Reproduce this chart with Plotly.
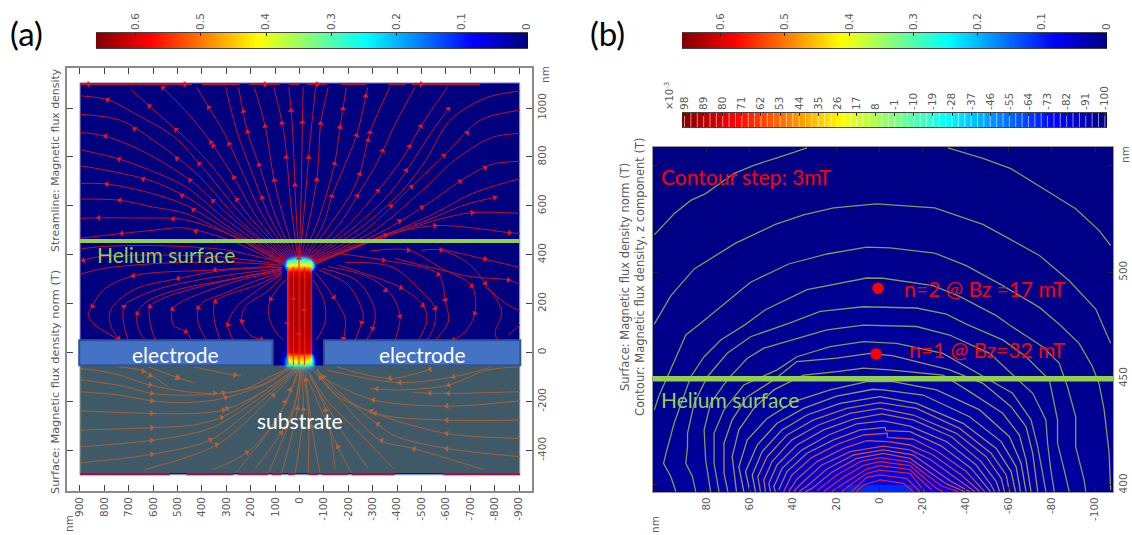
import math
import plotly.graph_objects as go

W, H = 1132, 535
JET = [[0, '#00007f'], [.125, '#0000ff'], [.375, '#00ffff'], [.625, '#ffff00'], [.875, '#ff0000'], [1, '#7f0000']]

# ---------- panel (a): magnet pillar field (nm, tesla) ----------
pillar_x_half = [0, 10, 22, 36, 50, 52, 58, 70, 90]
pillar_y = [-95, -80, -70, -60, -52, -45, -35, -15, 5, 100, 200, 300, 325, 335, 345, 355, 365, 375, 385, 395, 405, 418]
pillar_z_half = [
    [.01, .01, .01, .005, 0, 0, 0, 0, 0],
    [.06, .06, .05, .04, .03, .02, .01, 0, 0],
    [.13, .13, .12, .10, .08, .06, .03, .005, 0],
    [.20, .20, .20, .18, .15, .14, .08, .02, 0],
    [.27, .27, .27, .25, .22, .20, .13, .04, 0],
    [.33, .33, .33, .32, .28, .24, .15, .04, 0],
    [.42, .42, .42, .42, .36, .26, .14, .03, 0],
    [.50, .50, .50, .50, .46, .20, .08, .02, 0],
    [.58, .62, .60, .62, .55, .05, .02, 0, 0],
    [.60, .645, .62, .645, .56, .02, .01, 0, 0],
    [.60, .645, .62, .645, .56, .02, .01, 0, 0],
    [.60, .645, .62, .645, .56, .02, .01, 0, 0],
    [.58, .62, .60, .62, .55, .03, .01, 0, 0],
    [.55, .58, .57, .58, .52, .10, .03, 0, 0],
    [.50, .50, .50, .50, .46, .28, .12, .02, 0],
    [.44, .44, .44, .44, .41, .30, .18, .05, 0],
    [.38, .38, .38, .38, .35, .28, .18, .05, 0],
    [.32, .32, .32, .31, .27, .22, .14, .04, 0],
    [.25, .25, .24, .21, .16, .13, .08, .02, 0],
    [.15, .15, .14, .12, .08, .07, .04, .01, 0],
    [.06, .06, .05, .04, .03, .02, .01, 0, 0],
    [.005, .005, .005, .005, 0, 0, 0, 0, 0],
]

fan_left = [
    [(3,392),(15,600),(30,940),(44,1085)],
    [(0,392),(-8,700),(-12,941),(-15,1085)],
    [(8,392),(35,600),(64,900),(105,1085)],
    [(14,392),(65,550),(104,705),(141,926),(185,1085)],
    [(20,391),(95,550),(160,750),(213,903),(250,1085)],
    [(26,390),(120,550),(200,750),(255,900),(303,1085)],
    [(32,388),(145,550),(240,750),(310,900),(370,1000),(422,1085)],
    [(37,386),(170,545),(280,735),(363,860),(450,970),(562,1085)],
    [(42,384),(200,550),(340,740),(450,860),(550,950),(691,1076)],
    [(47,381),(225,550),(400,760),(511,880),(670,975),(787,1034),(900,1050)],
    [(51,378),(250,545),(420,730),(580,855),(734,950),(900,974)],
    [(54,375),(270,545),(448,705),(636,820),(795,885),(900,900)],
    [(57,372),(290,535),(470,680),(636,755),(734,790),(900,830)],
    [(60,369),(300,520),(435,620),(600,700),(790,745),(900,764)],
    [(62,366),(300,505),(470,605),(640,660),(790,689),(900,692)],
    [(64,363),(300,490),(470,570),(600,595),(737,623),(900,628)],
    [(66,360),(280,480),(480,545),(650,550),(823,551),(900,549)],
    [(68,357),(300,465),(480,510),(600,500),(728,487),(900,467)],
]
fan_right = [
    [(-3,392),(-25,650),(-37,798),(-66,1085)],
    [(-8,392),(-71,708),(-87,937),(-118,1085)],
    [(-14,392),(-80,550),(-144,773),(-166,921),(-192,1085)],
    [(-20,391),(-100,530),(-133,640),(-200,800),(-234,888),(-280,1085)],
    [(-26,390),(-130,530),(-205,640),(-247,730),(-289,900),(-370,1085)],
    [(-32,388),(-160,520),(-237,641),(-320,780),(-390,930),(-473,1085)],
    [(-37,386),(-190,510),(-320,660),(-426,800),(-500,930),(-607,1085)],
    [(-42,384),(-220,510),(-370,650),(-469,790),(-540,900),(-617,1005)],
    [(-47,381),(-250,510),(-420,660),(-520,790),(-617,950),(-760,1040),(-904,1070)],
    [(-51,378),(-270,500),(-459,678),(-607,820),(-740,950),(-904,991)],
    [(-54,375),(-300,495),(-500,660),(-640,790),(-790,880),(-904,896)],
    [(-57,372),(-330,490),(-520,605),(-680,715),(-790,770),(-904,782)],
    [(-60,369),(-352,480),(-555,570),(-707,650),(-904,712)],
    [(-62,366),(-370,490),(-496,530),(-680,605),(-814,637)],
    [(-64,363),(-300,455),(-555,540),(-707,572),(-904,569)],
    [(-66,360),(-352,480),(-555,519),(-750,505),(-861,490),(-904,487)],
]
lobe_left = [
    [(93,372),(298,419),(572,437),(818,433),(900,423)],
    [(107,365),(339,392),(627,399),(818,392),(886,377),(900,372)],
    [(78,358),(298,369),(572,365),(804,344),(900,320)],
    [(72,355),(353,338),(681,314),(804,256),(849,190),(866,153),(845,119),(750,58)],
    [(72,348),(298,338),(497,303),(668,262),(756,201),(780,153),(770,99),(736,51)],
    [(72,344),(339,310),(572,262),(688,215),(720,190),(722,126),(702,51)],
    [(72,342),(298,297),(504,256),(627,208),(665,160),(661,99),(633,51)],
    [(72,338),(257,303),(435,262),(558,222),(613,188),(613,126),(592,51)],
    [(72,333),(217,303),(367,256),(483,208),(521,178),(517,113),(465,85),(442,51)],
    [(72,328),(189,290),(326,235),(394,208),(415,183),(415,119),(381,51)],
    [(72,324),(175,276),(298,235),(346,208),(350,140),(326,51)],
    [(72,320),(162,262),(257,188),(294,115),(271,51)],
    [(72,310),(134,249),(223,188),(237,129),(203,72),(148,51)],
    [(60,297),(118,219),(128,167),(107,99),(66,51)],
]
lobe_right = [
    [(-57,297),(-102,208),(-105,126),(-70,51)],
    [(-64,331),(-141,226),(-187,140),(-180,51)],
    [(-77,338),(-200,276),(-262,153),(-255,123),(-228,51)],
    [(-91,344),(-241,290),(-310,167),(-300,99),(-275,51)],
    [(-118,351),(-282,310),(-378,235),(-412,147),(-392,51)],
    [(-159,358),(-416,265),(-508,192),(-521,126),(-487,51)],
    [(-187,369),(-378,351),(-501,249),(-556,181),(-549,99),(-521,51)],
    [(-146,406),(-344,378),(-569,320),(-597,215),(-610,126),(-556,51)],
    [(-289,415),(-446,419),(-583,344),(-706,273),(-720,164),(-679,85),(-631,51)],
    [(-501,419),(-580,419),(-692,365),(-761,283),(-829,167),(-802,85),(-809,51)],
    [(-583,423),(-761,382),(-904,348)],
    [(-392,385),(-556,344),(-706,310),(-856,297),(-904,279)],
    [(-761,269),(-856,194),(-904,170)],
    [(-856,72),(-904,113)],
]
pillar_lines = [
    [(48,-50),(48,350)], [(25,-50),(25,350)], [(2,-50),(2,392)], [(-20,-50),(-20,350)],
]
substrate_lines = [
    [(900,-65),(763,-85),(613,-133),(463,-160),(326,-167),(217,-147),(107,-92),(25,-58)],
    [(900,-110),(709,-140),(606,-167),(435,-174),(298,-164),(148,-129),(52,-65)],
    [(900,-160),(736,-174),(606,-197),(463,-205),(312,-187),(134,-126),(39,-65)],
    [(900,-238),(606,-249),(435,-249),(312,-235),(162,-167),(25,-72)],
    [(900,-317),(606,-307),(435,-296),(319,-265),(189,-187),(25,-72)],
    [(900,-385),(599,-358),(367,-310),(175,-194),(18,-72)],
    [(900,-451),(599,-415),(367,-358),(217,-249),(11,-72)],
    [(633,-478),(333,-374),(107,-174),(9,-72)],
    [(353,-478),(210,-405),(80,-249),(5,-72)],
    [(264,-494),(110,-300),(40,-170),(2,-72)],
    [(182,-474),(73,-324),(18,-208),(-2,-72)],
    [(128,-494),(25,-235),(-5,-72)],
    [(73,-494),(9,-235),(-5,-72)],
    [(18,-494),(-16,-235),(-7,-72)],
    [(-36,-494),(-36,-228),(-13,-72)],
    [(-84,-494),(-50,-303),(-23,-72)],
    [(-146,-474),(-107,-235),(-30,-72)],
    [(-214,-494),(-157,-385),(-36,-112)],
    [(-282,-474),(-180,-330),(-43,-99)],
    [(-385,-474),(-248,-331),(-112,-194),(-43,-85)],
    [(-754,-478),(-467,-392),(-330,-358),(-180,-208),(-57,-72)],
    [(-904,-426),(-604,-392),(-399,-344),(-317,-290),(-207,-201),(-71,-72)],
    [(-904,-351),(-604,-331),(-330,-256),(-139,-167),(-71,-72)],
    [(-904,-276),(-604,-276),(-310,-249),(-139,-153),(-71,-65)],
    [(-904,-197),(-604,-219),(-303,-194),(-112,-112)],
    [(-904,-160),(-604,-167),(-467,-164)],
    [(-904,-58),(-768,-72),(-611,-133),(-412,-153),(-289,-147)],
    [(-781,-61),(-631,-99),(-412,-123),(-112,-72)],
    [(-535,-68),(-371,-106),(-153,-58)],
    [(743,-58),(640,-76),(545,-136)],
    [(620,-58),(490,-106),(435,-123)],
    [(435,-58),(264,-92),(237,-92)],
]
top_edge_x = [900,441,None,400,244,None,207,81,None,44,0,None,-30,-111,None,-170,-274,None,-363,-437,None,-459,-740]
top_edge_y = [1097,1097,None,1097,1097,None,1097,1097,None,1097,1097,None,1097,1097,None,1097,1097,None,1097,1097,None,1097,1097]
bottom_edge_x = [900,531,None,463,271,None,251,128,None,114,73,None,46,18,None,-36,-77,None,-91,-200,None,-214,-392,None,-590,-904]
bottom_edge_y = [-497,-497,None,-497,-497,None,-497,-497,None,-497,-497,None,-497,-497,None,-497,-497,None,-497,-497,None,-497,-497,None,-497,-497]

arrows_top = [(863,1097),(469,1097),(141,1097),(-74,1097),(-500,1097),
    (562,1080),(336,1024),(207,991),(30,991),(787,1034),(596,1030),(64,940),(-12,941),(-87,937),(141,926),(-166,921),
    (670,925),(511,906),(795,891),(213,903),(343,873),(363,839),(278,858),(734,812),(508,787),(407,776),(180,763),
    (636,727),(448,705),(281,709),(104,705),(790,689),(737,623),(485,634),(355,620),(260,623),(158,632),(435,583),
    (823,551),(518,553),(422,508),(728,487),
    (-271,1050),(-148,1002),(-617,992),(-456,949),(-289,900),(-234,888),(-699,887),(-309,862),(-469,833),(-370,812),
    (-607,790),(-755,767),(-144,773),(-37,798),(74,797),(-426,753),(-247,730),(-71,708),(15,685),(-666,689),(-459,678),
    (-237,641),(-133,640),(-336,652),(-370,604),(-496,604),(-799,637),(-707,572),(-405,546),(-555,519),(-352,480),(-861,490)]
arrows_lobe = [(849,190),(720,188),(665,160),(613,188),(521,178),(415,183),(346,211),(294,115),(237,129),(118,219),
    (681,314),(497,303),(346,338),(465,88),(155,58),(743,58),(886,377),
    (-141,226),(-255,123),(-300,99),(-334,231),(-416,265),(-408,147),(-504,192),(-556,181),(-597,215),(-569,320),
    (-706,273),(-713,164),(-761,283),(-856,297),(-761,382),(-580,419),(-446,419),(-344,378),(-180,58),(-631,55),
    (25,221),(-20,176),(48,122),(2,78),(2,386)]
arrows_substrate = [(640,-76),(620,-106),(490,-68),(497,-106),(264,-92),(613,-137),(606,-167),(346,-147),(312,-163),
    (606,-197),(303,-185),(305,-208),(606,-249),(312,-235),(606,-307),(319,-265),(606,-358),(367,-355),(606,-412),
    (340,-374),(214,-410),(80,-324),(59,-201),(107,-174),(52,-147),(7,-228),(-13,-232),(-107,-235),(-50,-303),
    (-157,-385),(-30,-112),(-77,-112),(-98,-99),(-542,-68),(-631,-99),(-412,-123),(-371,-106),(-611,-133),(-535,-167),
    (-317,-151),(-611,-167),(-303,-194),(-604,-219),(-303,-222),(-310,-252),(-604,-276),(-323,-290),(-604,-333),
    (-337,-358),(-604,-392),(-470,-395)]

# ---------- panel (b): contours of Bz near the helium surface (nm) ----------
contours_outer = [
    [(104.3,517.6),(95.1,527.5),(87.4,533.8),(80.5,537),(67.4,546.4),(58.2,550.3),(47.4,553.8),(33.5,558.5)],
    [(-31.8,558.5),(-48,553.5),(-61,548.7),(-75.7,539.6),(-91,529.9),(-101.8,519.7),(-107.2,512.6)],
    [(104.3,475.6),(96.6,489),(85.8,501.6),(66.6,513.7),(48.2,522.5),(35.1,527),(21.2,530.3),(1.2,532.2),(-25.7,530.3),(-48,522.5),(-60.3,515.7),(-74.2,507.9),(-88,496),(-100.3,482.7),(-107.2,466.6)],
    [(104.3,435.3),(102,442.3),(98.2,450.9),(94.3,460.3),(89.7,470.5),(82.8,476),(59.7,495.3),(42,503.9),(24.3,508.6),(5.8,511.8),(-4.9,511.5),(-25.7,509),(-40.3,503.1),(-57.2,493.7),(-74.2,483.5),(-83.4,475.6),(-92.6,466.6),(-98.8,455.6),(-101.8,447.8),(-104.2,435.3),(-106.5,414.9),(-107.2,397.6)],
    [(94.3,396.9),(96.6,403.9),(100,410.2),(98.9,414.9),(95.1,429),(90.5,441.5),(87.4,450.9),(81.2,460.3),(73.5,468.2),(62,475.5),(52.8,482.4),(33.5,491.8),(19.7,494.5),(5.8,497.3),(-1.8,497.2),(-24.9,493.7),(-37.2,488.7),(-54.2,479.6),(-60.3,475.2),(-75.7,465),(-83.4,457.2),(-87.2,446.2),(-91,432.1),(-91,418),(-94.9,402.4),(-95.7,396.9)],
    [(85.1,396.9),(86.6,403.9),(89.7,410.2),(88.9,418),(88.9,424.3),(85.8,438.4),(79.7,450.9),(70.5,461.9),(59.7,469.7),(42,476),(27.4,481.6),(7.4,483.8),(-17.2,483.2),(-31.1,480.3),(-40.3,475.6),(-57.2,468.2),(-68,460.3),(-78.8,449.4),(-82.6,430.6),(-82.6,419.6),(-85.7,407),(-88,396.9)],
    [(78.2,396.9),(80.5,411.8),(81.2,425.9),(78.2,438.4),(70.5,449.4),(61.2,459.6),(53.5,464.3),(39.7,468.2),(24.3,472.9),(7.4,475.2),(-17.2,474.5),(-32.6,470.5),(-51.1,461.9),(-61.1,452.5),(-71.1,443.1),(-77.2,430.6),(-78,419.6),(-79.5,407),(-81.1,396.9)],
    [(74.3,396.9),(76.6,410.2),(76.6,424.3),(72,435.3),(62.8,447),(47.4,454.1),(38.2,460.3),(22.8,465),(7.4,467.4),(-8,466.6),(-29.5,461.9),(-45.7,452.5),(-61.8,443.1),(-70.3,430.6),(-73.4,418),(-75.7,405.5),(-77.2,396.9)],
]
contours_middle = [
    [(70.2,396.9),(72,405.5),(72,419.6),(68.2,430.6),(61.2,441.5),(48.9,449.4),(38.2,458),(19.7,459.6),(4.3,461.9),(-6.5,460.7),(-32.6,454.1),(-48,447.8),(-61.1,436.8),(-68,427.4),(-71.1,414.9),(-73.4,396.9)],
    [(66.2,396.9),(68.2,413.3),(65.1,425.9),(58.2,436),(48.9,444.7),(35.1,451.7),(19.7,453.3),(7.4,454.9),(-4.9,454.1),(-29.5,451.7),(-41.8,443.9),(-57.2,433.7),(-64.9,423.5),(-68,411.8),(-70.3,396.9)],
    [(62.8,396.9),(65.1,408.6),(61.2,421.2),(52,431.3),(39.7,439.2),(22.8,444.7),(5.8,448.6),(-6.5,448.6),(-26.5,444.7),(-46.5,435.3),(-60.3,422.7),(-65.7,410.2),(-68,396.9)],
    [(60,396.9),(62,406.3),(56.6,418.8),(47.4,429),(35.1,436),(19.7,441.8),(2.8,445),(-1.8,444.7),(-20.3,442.3),(-41.8,432.1),(-56.5,420.4),(-63.4,408.6),(-65.4,396.9)],
    [(57.4,396.9),(58.9,404.7),(54.3,415.7),(45.1,425.9),(33.5,432.9),(18.2,438.4),(-0.3,441.5),(-17.2,438.4),(-38.8,429),(-54.2,417.2),(-61.1,406.3),(-63.1,396.9)],
]
contours_warm = [
    [(55.1,396.9),(56.3,403.9),(52,413.3),(42.8,423.5),(30.5,430.6),(15.1,436),(-0.3,438.7),(-17.2,436),(-37.2,426.6),(-51.8,414.9),(-58.8,404.7),(-60.3,396.9)],
    [(52.8,396.9),(53.5,402.4),(49.7,411),(40.5,421.2),(28.2,428.2),(13.5,433.7),(-0.3,436),(-15.7,432.9),(-35.7,424.3),(-49.5,413.3),(-56.5,403.1),(-58,396.9)],
    [(50.5,396.9),(51.2,400.8),(47.4,409.4),(38.2,418.8),(25.8,425.9),(12,431),(-1.1,433.4),(-15.7,430.6),(-33.4,422.7),(-47.2,411),(-54.2,401.6),(-55.7,396.9)],
    [(48.2,396.9),(48.9,399.2),(45.1,407.8),(35.8,416.5),(23.5,423.5),(10.5,428.7),(-1.8,430.1),(-14.2,427.7),(-31.1,420.4),(-44.9,409.4),(-51.8,400),(-53.4,396.9)],
    [(46.6,397.6),(42.8,406.3),(33.5,414.9),(21.2,421.2),(8.9,425.9),(-2.6,427.1),(-3.1,425.5),(-14.2,425.1),(-28.8,418.3),(-42.6,407.8),(-50.3,398.4),(-51.4,396.9)],
]
contours_hot = [
    [(44.3,396.9),(40.5,404.7),(31.2,413),(18.9,419.3),(7.4,423.5),(-3.7,424.3),(-3.8,422.4),(-15.7,421.5),(-26.5,416.1),(-40.3,406.3),(-48.8,396.9)],
    [(42,396.9),(38.2,402.7),(28.9,411),(16.6,417.2),(5.8,420.8),(-4.2,420.4),(-14.2,418.8),(-24.9,414.1),(-38,404.7),(-46.5,396.9)],
    [(39.7,396.9),(35.8,401.1),(26.6,409.4),(13.5,415.7),(-1.8,418.3),(-14.2,416.5),(-23.4,412.1),(-35.7,403.1),(-44.2,396.9)],
    [(37.1,396.9),(33.5,399.5),(24.3,407.5),(12,414.1),(-1.8,416.5),(-15.7,414.1),(-33.4,401.6),(-41.8,396.9)],
    [(34.3,396.9),(31.2,398.4),(22,406),(10.5,412.5),(-1.8,414.9),(-14.2,412.5),(-31.1,400.5),(-39.5,396.9)],
]
contours_red = [
    [(28.9,397.3),(19.7,404.7),(8.9,411),(-0.3,412.9),(-14.2,410.7),(-28.8,399.5),(-36.5,396.9)],
    [(25.8,396.9),(17.4,403.1),(7.4,409.2),(-0.3,411),(-14.2,409.1),(-26.5,398.4),(-29.5,396.9)],
    [(22,396.9),(15.1,401.6),(5.8,407.5),(-0.3,409.1),(-14.2,407.2),(-24.2,397.6)],
    [(17.4,396.9),(13.5,400),(5.8,405.5),(-0.3,407),(-14.2,405.5),(-21.1,396.9)],
    [(12.8,396.9),(10.5,399.2),(5.8,403.6),(-0.3,404.7),(-12.6,403.1),(-18.8,396.9)],
    [(10.5,396.9),(7.4,400),(-0.3,402.4),(-11.1,400.8),(-15.7,396.9)],
]
field_x = [-110, -60, -30, -16, -14, 0, 14, 16, 30, 60, 108]
field_y = [396, 399.8, 400.2, 403, 420, 450, 500, 560]
field_z = [
    [.015, .03, .08, .09, .105, .11, .105, .09, .08, .03, .015],
    [.015, .03, .08, .09, .105, .11, .105, .09, .08, .03, .015],
    [.015, .03, .06, .072, .072, .075, .072, .072, .06, .03, .015],
    [.015, .03, .06, .07, .07, .075, .07, .07, .06, .03, .015],
    [.012, .02, .04, .045, .048, .05, .048, .045, .04, .02, .012],
    [.008, .012, .02, .022, .023, .024, .023, .022, .02, .012, .008],
    [.005, .006, .008, .009, .01, .01, .01, .009, .008, .006, .005],
    [.002, .003, .003, .003, .003, .003, .003, .003, .003, .003, .002],
]
state_x = [0.6, 1.5]
state_y = [492.5, 461.6]

# ---------- ticks ----------
a_xticks = [900, 800, 700, 600, 500, 400, 300, 200, 100, 0, -100, -200, -300, -400, -500, -600, -700, -800, -900]
a_yticks = [-400, -200, 0, 200, 400, 600, 800, 1000]
b_xticks = [80, 60, 40, 20, 0, -20, -40, -60, -80, -100]
b_yticks = [400, 450, 500]
b_unlabelled_ticks = [550]
norm_ticks = [0.6, 0.5, 0.4, 0.3, 0.2, 0.1, 0]
norm_limits = [-0.002, 0.661]
norm_limits_b = [-0.001, 0.66]
bz_ticks = [98, 89, 80, 71, 62, 53, 44, 35, 26, 17, 8, -1, -10, -19, -28, -37, -46, -55, -64, -73, -82, -91, -100]
bz_limits = [-101, 99.2]
bz_levels = [98,95,92,89,86,83,80,77,74,71,68,65,62,59,56,53,50,47,44,41,38,35,32,29,26,23,20,17,14,11,8,5,2,-1,-4,-7,-10,
             -13,-16,-19,-22,-25,-28,-31,-34,-37,-40,-43,-46,-49,-52,-55,-58,-61,-64,-67,-70,-73,-76,-79,-82,-85,-88,-91,-94,-97,-100]


def flat(lines):
    xs, ys = [], []
    for ln in lines:
        xs += [p[0] for p in ln] + [None]
        ys += [p[1] for p in ln] + [None]
    return xs, ys


def snap(arrows, lines):
    """Put each read arrow on its nearest streamline and point it along that line."""
    out_x, out_y, out_a = [], [], []
    for ax_, ay_ in arrows:
        best = None
        for ln in lines:
            for (x0, y0), (x1, y1) in zip(ln[:-1], ln[1:]):
                dx_, dy_ = x1 - x0, y1 - y0
                t = max(0, min(1, ((ax_ - x0) * dx_ + (ay_ - y0) * dy_) / (dx_ * dx_ + dy_ * dy_ or 1)))
                px, py = x0 + t * dx_, y0 + t * dy_
                d = (px - ax_) ** 2 + (py - ay_) ** 2
                if best is None or d < best[0]:
                    best = (d, px, py, dx_, dy_)
        out_x.append(best[1]); out_y.append(best[2])
        out_a.append(math.degrees(math.atan2(-best[3], best[4])))
    return out_x, out_y, out_a


def dx(l, r):
    return [l / W, r / W]


def dy(t, b):
    return [1 - b / H, 1 - t / H]


fig = go.Figure()
TICK = dict(family='DejaVu Sans', size=10.5, color='#5a5a5a')
STREAM = 'rgb(195,15,40)'

# panel (a)
pillar_x = [-v for v in pillar_x_half[:0:-1]] + pillar_x_half
pillar_z = [row[:0:-1] + row for row in pillar_z_half]
fig.add_trace(go.Heatmap(x=pillar_x, y=pillar_y, z=pillar_z, colorscale=JET, zmin=0, zmax=0.661, zsmooth='best',
                         showscale=False, hoverinfo='skip', xaxis='x', yaxis='y'))
all_lines = fan_left + fan_right + lobe_left + lobe_right + substrate_lines
sx, sy = flat(all_lines)
fig.add_trace(go.Scatter(x=sx, y=sy, mode='lines', line=dict(color=STREAM, width=1, shape='spline', smoothing=0.9),
                         connectgaps=False, hoverinfo='skip', xaxis='x', yaxis='y'))
px_, py_ = flat(pillar_lines)
fig.add_trace(go.Scatter(x=px_, y=py_, mode='lines', line=dict(color='#f02010', width=1), hoverinfo='skip', xaxis='x', yaxis='y'))
fig.add_trace(go.Scatter(x=top_edge_x, y=top_edge_y, mode='lines', line=dict(color=STREAM, width=1.2),
                         hoverinfo='skip', xaxis='x', yaxis='y'))
fig.add_trace(go.Scatter(x=bottom_edge_x, y=bottom_edge_y, mode='lines', line=dict(color='#a8104c', width=2),
                         hoverinfo='skip', xaxis='x', yaxis='y'))
edge_lines = [[(top_edge_x[i], 1097), (top_edge_x[i + 1], 1097)] for i in range(0, len(top_edge_x) - 1, 3)]
ax1, ay1, aa1 = snap(arrows_top, fan_left + fan_right + edge_lines)
ax2, ay2, aa2 = snap(arrows_lobe, lobe_left + lobe_right + pillar_lines)
ax3, ay3, aa3 = snap(arrows_substrate, substrate_lines)
fig.add_trace(go.Scatter(x=ax1 + ax2 + ax3, y=ay1 + ay2 + ay3, mode='markers',
                         marker=dict(symbol='triangle-up', size=5.5, color='#ee1020', angle=aa1 + aa2 + aa3, line=dict(width=0)),
                         hoverinfo='skip', xaxis='x', yaxis='y'))

# panel (b)
fig.add_trace(go.Heatmap(x=field_x, y=field_y, z=field_z, colorscale=JET, zmin=0, zmax=0.661, zsmooth='best',
                         showscale=False, hoverinfo='skip', xaxis='x2', yaxis='y2'))
for group, col in [(contours_outer, '#84985c'), (contours_middle, '#9a965a'), (contours_warm, '#ac7650'),
                   (contours_hot, '#c44e3c'), (contours_red, '#dc2424')]:
    cx, cy = flat(group)
    fig.add_trace(go.Scatter(x=cx, y=cy, mode='lines', line=dict(color=col, width=1.3), hoverinfo='skip', xaxis='x2', yaxis='y2'))
fig.add_trace(go.Scatter(x=state_x, y=state_y, mode='markers', marker=dict(color='#ff0000', size=11.5), hoverinfo='skip',
                         xaxis='x2', yaxis='y2'))

# colour bars
for lim, xa, ya in [(norm_limits, 'x3', 'y3'), (norm_limits_b, 'x4', 'y4')]:
    fig.add_trace(go.Heatmap(x=lim, y=[0, 1], z=[lim, lim], colorscale=JET, zmin=0, zmax=0.661, zsmooth='best',
                             showscale=False, hoverinfo='skip', xaxis=xa, yaxis=ya))
fig.add_trace(go.Heatmap(x=bz_limits, y=[0, 1], z=[bz_limits, bz_limits], colorscale=JET, zmin=bz_limits[0], zmax=bz_limits[1],
                         zsmooth='best', showscale=False, hoverinfo='skip', xaxis='x5', yaxis='y5'))
lx, ly = [], []
for v in bz_levels:
    lx += [v, v, None]
    ly += [0, 1, None]
fig.add_trace(go.Scatter(x=lx, y=ly, mode='lines', line=dict(color='rgba(255,255,255,0.55)', width=1), hoverinfo='skip',
                         xaxis='x5', yaxis='y5'))

layout = dict(
    width=W, height=H, autosize=False, margin=dict(l=0, r=0, t=0, b=0), paper_bgcolor='white', plot_bgcolor='white',
    showlegend=False, hovermode=False,
    xaxis=dict(domain=dx(67, 532), range=[953, -953], tickmode='array', tickvals=a_xticks, ticktext=[str(v) for v in a_xticks],
               tickangle=-90, ticks='inside', ticklen=6, tickcolor='#444', showline=True, linecolor='#8a8a8a', linewidth=1.5,
               mirror='ticks', showgrid=False, zeroline=False, tickfont=TICK, anchor='y', side='bottom', automargin=False),
    yaxis=dict(domain=dy(68, 491), range=[-566, 1163.6], tickmode='array', tickvals=a_yticks, ticktext=[str(v) for v in a_yticks],
               tickangle=-90, ticks='inside', ticklen=6, tickcolor='#444', showline=True, linecolor='#8a8a8a', linewidth=1.5,
               mirror='ticks', showgrid=False, zeroline=False, tickfont=TICK, anchor='x', side='right', automargin=False),
    xaxis2=dict(domain=dx(653, 1113), range=[104.9, -108.3], tickmode='array', tickvals=b_xticks, ticktext=[str(v) for v in b_xticks],
                tickangle=-90, ticks='inside', ticklen=5, tickcolor='#222', showline=True, linecolor='#9a9a9a', linewidth=1,
                mirror='ticks', showgrid=False, zeroline=False, tickfont=TICK, anchor='y2', side='bottom', automargin=False),
    yaxis2=dict(domain=dy(147, 492), range=[396.7, 558.9], tickmode='array', tickvals=b_yticks, ticktext=[str(v) for v in b_yticks],
                tickangle=-90, ticks='inside', ticklen=5, tickcolor='#222', showline=True, linecolor='#9a9a9a', linewidth=1,
                mirror='ticks', showgrid=False, zeroline=False, tickfont=TICK, anchor='x2', side='right', automargin=False,
                minor=dict(tickmode='array', tickvals=b_unlabelled_ticks, ticks='inside', ticklen=5, tickcolor='#222', showgrid=False)),
)
for name, dom_x, dom_y, rng, tv in [
    ('3', dx(96, 528), dy(33, 48), norm_limits[::-1], norm_ticks),
    ('4', dx(682, 1107), dy(33, 48), norm_limits_b[::-1], norm_ticks),
    ('5', dx(682, 1107), dy(113, 127), bz_limits[::-1], bz_ticks),
]:
    layout['xaxis' + name] = dict(domain=dom_x, range=rng, tickmode='array', tickvals=tv, ticktext=[str(v) for v in tv], tickangle=-90,
                                  side='top', ticks='inside', ticklen=3, tickcolor='#222', showline=True, linecolor='#444', linewidth=1,
                                  mirror=True, showgrid=False, zeroline=False, tickfont=TICK, anchor='y' + name, automargin=False)
    layout['yaxis' + name] = dict(domain=dom_y, range=[0, 1], visible=False, anchor='x' + name, automargin=False)

fig.update_layout(**layout)

# rectangles and bands: shapes in data coordinates
fig.add_shape(type='rect', xref='x', yref='y', x0=900, x1=-903, y0=-500, y1=1103, fillcolor='#00007f',
              line=dict(color='#b4b4dc', width=1), layer='below')
fig.add_shape(type='rect', xref='x', yref='y', x0=900, x1=-903, y0=-493, y1=-53, fillcolor='rgba(126,180,78,0.5)',
              line=dict(width=0), layer='above')
for x0, x1 in [(903, 110), (-101, -905)]:
    fig.add_shape(type='rect', xref='x', yref='y', x0=x0, x1=x1, y0=-52, y1=50, fillcolor='#4472c4',
                  line=dict(color='#2f5597', width=2), layer='above')
fig.add_shape(type='line', xref='x', yref='y', x0=900, x1=-903, y0=456, y1=456, line=dict(color='#92d050', width=4), layer='above')
fig.add_shape(type='line', xref='x2', yref='y2', x0=104.9, x1=-108.3, y0=450, y1=450, line=dict(color='#92d050', width=5.5), layer='above')


def note(text, px, py, size=21, color='black', family='Lato', rot=0, xanchor='left'):
    fig.add_annotation(text=text, x=px / W, y=1 - py / H, xref='paper', yref='paper', showarrow=False, textangle=rot,
                       xanchor=xanchor, yanchor='middle', font=dict(family=family, size=size, color=color))


note('(a)', 8, 33, size=33)
note('(b)', 588, 33, size=33)
note('Helium surface', 95, 255, color='#92d050')
note('electrode', 175, 354, color='white', xanchor='center')
note('electrode', 422, 354, color='white', xanchor='center')
note('substrate', 300, 420, color='white', xanchor='center')
note('Contour step: 3mT', 659, 177, color='#ff0000')
note('n=2 @ Bz =17 mT', 902, 288, color='#ff0000')
note('n=1 @ Bz=32 mT', 907, 349, color='#ff0000')
note('Helium surface', 659, 399, color='#92d050')
G = '#5a5a5a'
note('Surface: Magnetic flux density norm (T)', 55, 382, size=11.3, color=G, family='DejaVu Sans', rot=-90, xanchor='center')
note('Streamline: Magnetic flux density', 55, 160, size=10.9, color=G, family='DejaVu Sans', rot=-90, xanchor='center')
note('Surface: Magnetic flux density norm (T)', 625, 277, size=11.5, color=G, family='DejaVu Sans', rot=-90, xanchor='center')
note('Contour: Magnetic flux density, z component (T)', 640, 277, size=11.5, color=G, family='DejaVu Sans', rot=-90, xanchor='center')
note('nm', 545, 75, size=10.5, color=G, family='DejaVu Sans', rot=-90, xanchor='center')
note('nm', 69, 524, size=10.5, color=G, family='DejaVu Sans', rot=-90, xanchor='center')
note('nm', 1125, 155, size=10.5, color=G, family='DejaVu Sans', rot=-90, xanchor='center')
note('nm', 655, 525, size=10.5, color=G, family='DejaVu Sans', rot=-90, xanchor='center')
note('×10<sup>-3</sup>', 669, 96, size=10, color=G, family='DejaVu Sans', rot=-90, xanchor='center')

fig.write_html('out.html', config=dict(displayModeBar=False),
               post_script="document.body.style.margin='0';document.documentElement.style.overflow='hidden';")
